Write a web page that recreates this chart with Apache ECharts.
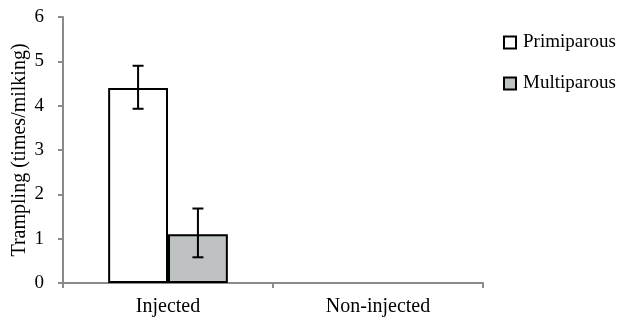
<!DOCTYPE html>
<html>
<head>
<meta charset="utf-8">
<script src="https://cdn.jsdelivr.net/npm/echarts@6/dist/echarts.min.js"></script>
<style>
  html, body { margin: 0; padding: 0; background: #fff; }
  #chart { width: 617px; height: 321px; }
</style>
</head>
<body>
<div id="chart"></div>
<script>
// data
const categories = ['Injected', 'Non-injected'];
const seriesNames = ['Primiparous', 'Multiparous'];
const primiparous = [4.4, '-'];
const multiparous = [1.1, '-'];
// error bar ranges [low, high], null = none
const primiErr = [[3.93, 4.9], null];
const multiErr = [[0.58, 1.68], null];
const yTicks = [0, 1, 2, 3, 4, 5, 6];

const font = 'Liberation Serif, Times New Roman, serif';
const axisGrey = '#8a8a8a';
const catGap = 0.43;

// slot 0 = left bar, 1 = right bar in each category
function errorSeries(name, errs, slot) {
  let data = [];
  errs.forEach((e, i) => {
    if (e) data.push([i, e[0], e[1]]);
  });
  return {
    name: name + ' error',
    type: 'custom',
    z: 5,
    silent: true,
    data: data,
    encode: { x: 0, y: [1, 2] },
    renderItem: function (params, api) {
      let idx = api.value(0);
      let lo = api.coord([idx, api.value(1)]);
      let hi = api.coord([idx, api.value(2)]);
      let band = api.size([1, 0])[0];
      let barW = band * (1 - catGap) / 2;
      let x = lo[0] + (slot === 0 ? -barW / 2 : barW / 2);
      let cap = 5.5;
      let style = { stroke: '#000', lineWidth: 2 };
      return {
        type: 'group',
        children: [
          { type: 'line', shape: { x1: x, y1: lo[1], x2: x, y2: hi[1] }, style: style },
          { type: 'line', shape: { x1: x - cap, y1: hi[1], x2: x + cap, y2: hi[1] }, style: style },
          { type: 'line', shape: { x1: x - cap, y1: lo[1], x2: x + cap, y2: lo[1] }, style: style }
        ]
      };
    }
  };
}

let chart = echarts.init(document.getElementById('chart'));
chart.setOption({
  animation: false,
  backgroundColor: '#fff',
  textStyle: { fontFamily: font },
  grid: { left: 63, right: 134, top: 17, bottom: 38, outerBoundsMode: 'none', containLabel: false },
  legend: {
    orient: 'vertical',
    left: 503,
    top: 33,
    padding: 0,
    itemWidth: 12,
    itemHeight: 12,
    itemGap: 22,
    icon: 'rect',
    data: seriesNames,
    textStyle: { fontFamily: font, fontSize: 19, color: '#000', padding: [0, 0, 0, 2], width: 200, overflow: 'none' }
  },
  xAxis: {
    type: 'category',
    data: categories,
    boundaryGap: true,
    axisLine: { lineStyle: { color: axisGrey, width: 2 } },
    axisTick: { show: true, length: 5, lineStyle: { color: axisGrey, width: 2 } },
    axisLabel: { fontFamily: font, fontSize: 20, color: '#000', margin: 14 }
  },
  yAxis: {
    type: 'value',
    min: 0,
    max: 6,
    interval: 1,
    name: 'Trampling (times/milking)',
    nameLocation: 'middle',
    nameGap: 33,
    nameMoveOverlap: false,
    nameTextStyle: { fontFamily: font, fontSize: 20, color: '#000' },
    splitLine: { show: false },
    axisLine: { show: true, lineStyle: { color: axisGrey, width: 2 } },
    axisTick: { show: true, length: 5, lineStyle: { color: axisGrey, width: 2 } },
    axisLabel: {
      fontFamily: font, fontSize: 19, color: '#000', margin: 19,
      formatter: v => yTicks.includes(v) ? String(v) : ''
    }
  },
  series: [
    {
      name: seriesNames[0],
      type: 'bar',
      data: primiparous,
      barGap: 0,
      barCategoryGap: '43%',
      itemStyle: { color: '#ffffff', borderColor: '#000', borderWidth: 2 }
    },
    {
      name: seriesNames[1],
      type: 'bar',
      data: multiparous,
      barGap: 0,
      barCategoryGap: '43%',
      itemStyle: { color: '#bfc2c2', borderColor: '#000', borderWidth: 2 }
    },
    errorSeries(seriesNames[0], primiErr, 0),
    errorSeries(seriesNames[1], multiErr, 1)
  ]
});
</script>
</body>
</html>
